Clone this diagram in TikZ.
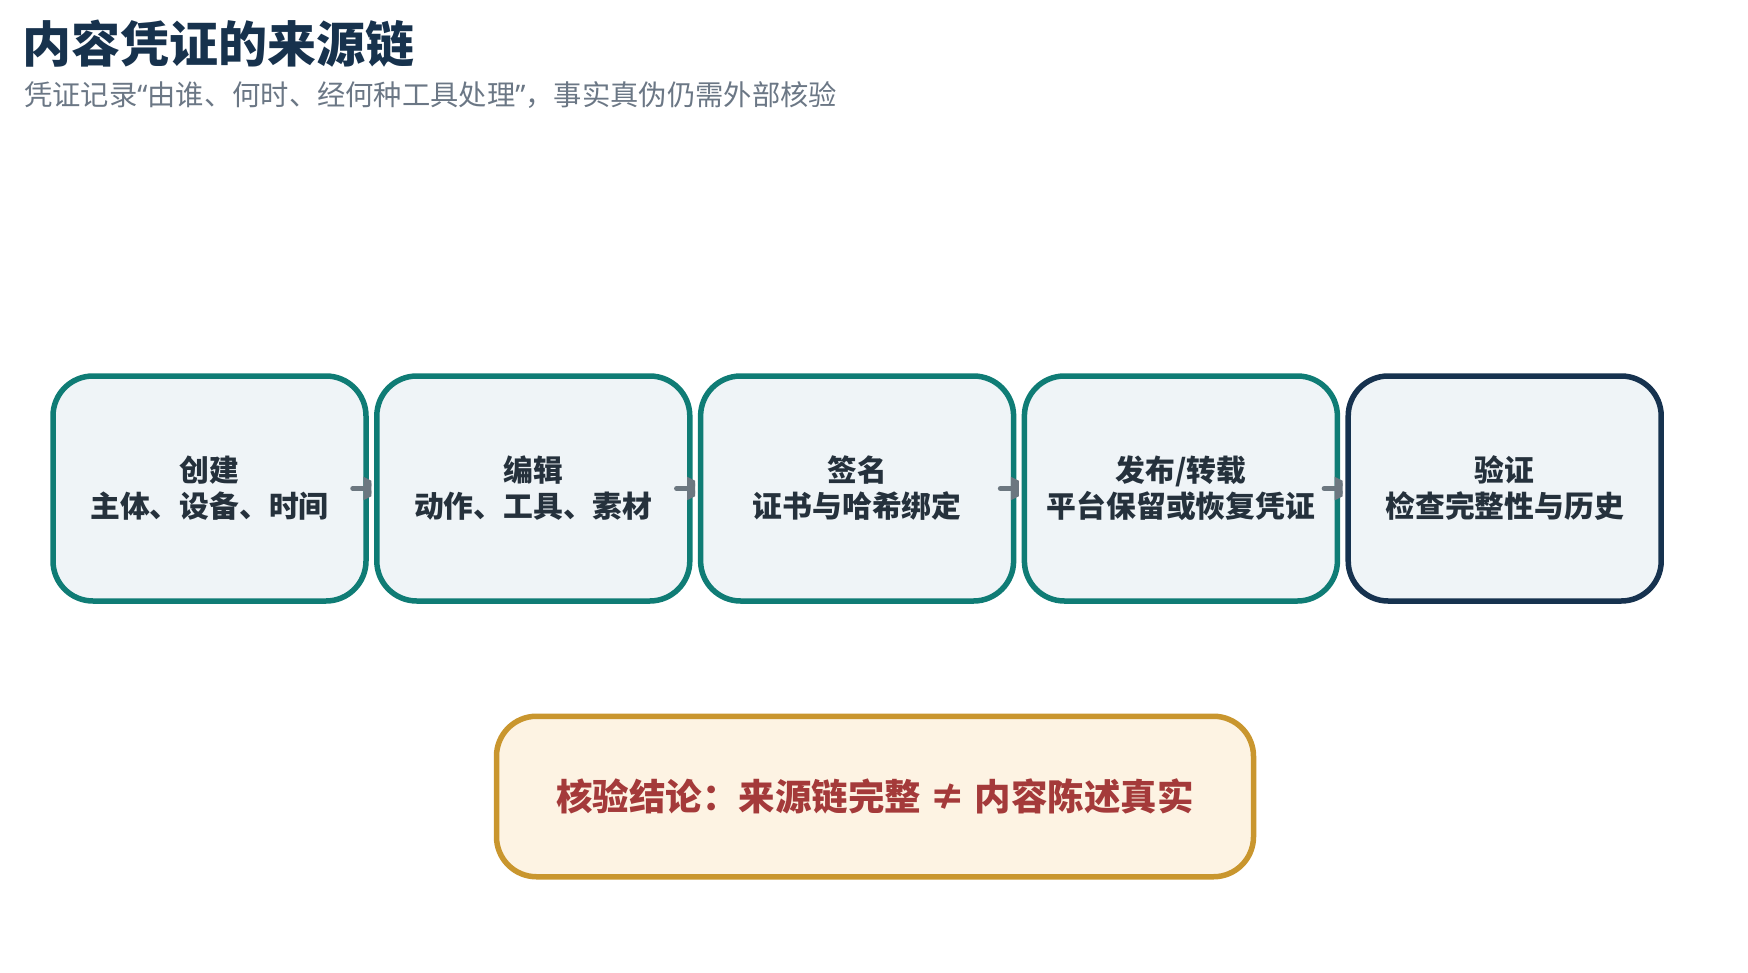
\documentclass[tikz,border=0pt]{standalone}
\usepackage{fontspec}
\newfontfamily\cjk{Noto Sans CJK SC}
\newfontfamily\latinq{Noto Sans}
\usetikzlibrary{arrows.meta}
\definecolor{tealb}{HTML}{0F7C75}
\definecolor{navyb}{HTML}{16324F}
\definecolor{boxfill}{HTML}{EFF4F7}
\definecolor{boxtxt}{HTML}{25313C}
\definecolor{titlec}{HTML}{17324D}
\definecolor{subc}{HTML}{6B7785}
\definecolor{arrc}{HTML}{6C7780}
\definecolor{goldb}{HTML}{C9962E}
\definecolor{goldfill}{HTML}{FDF3E3}
\definecolor{redt}{HTML}{A43A3A}
\begin{document}
\begin{tikzpicture}[x=1pt,y=-1pt,
  stepbox/.style={draw=tealb, line width=5.5pt, fill=boxfill, rounded corners=40pt,
    minimum width=313pt, minimum height=225pt, align=center, inner sep=0pt,
    font=\cjk\bfseries\fontsize{29.8}{36}\selectfont, text=boxtxt},
  arr/.style={draw=arrc, line width=5pt, line cap=round, -{Triangle[length=24pt,width=22pt]}},
  concl/.style={draw=goldb, line width=5.5pt, fill=goldfill, rounded corners=40pt,
    minimum width=757pt, minimum height=160.5pt, inner sep=0pt,
    font=\cjk\bfseries\fontsize{36.5}{42}\selectfont, text=redt}]
\useasboundingbox (0,0) rectangle (1748,972);
\node[anchor=west, inner sep=0pt, font=\cjk\bfseries\fontsize{49}{58}\selectfont, text=titlec] (title) at (22,44) {内容凭证的来源链};
\node[anchor=west, inner sep=0pt, font=\cjk\fontsize{28.3}{32}\selectfont, text=subc] (sub) at (24,95) {凭证记录{\latinq “}由谁、何时、经何种工具处理{\latinq ”}，事实真伪仍需外部核验};
\node[stepbox] (b1) at (209.5,488.5) {创建\\主体、设备、时间};
\node[stepbox] (b2) at (533.3,488.5) {编辑\\动作、工具、素材};
\node[stepbox] (b3) at (857.1,488.5) {签名\\证书与哈希绑定};
\node[stepbox] (b4) at (1180.9,488.5) {发布/转载\\平台保留或恢复凭证};
\node[stepbox, draw=navyb] (b5) at (1504.7,488.5) {验证\\检查完整性与历史};
\foreach \a/\b in {b1/b2,b2/b3,b3/b4,b4/b5}{
  \begin{scope}
    \clip ([xshift=-30pt]\a.north east) rectangle ([xshift=-2.75pt]\b.south west);
    \draw[arr] ([xshift=-16pt]\a.east) -- ([xshift=13.25pt]\b.west);
  \end{scope}
}
\node[concl] (c) at (875,796.5) {核验结论：来源链完整 ≠ 内容陈述真实};
\end{tikzpicture}
\end{document}
